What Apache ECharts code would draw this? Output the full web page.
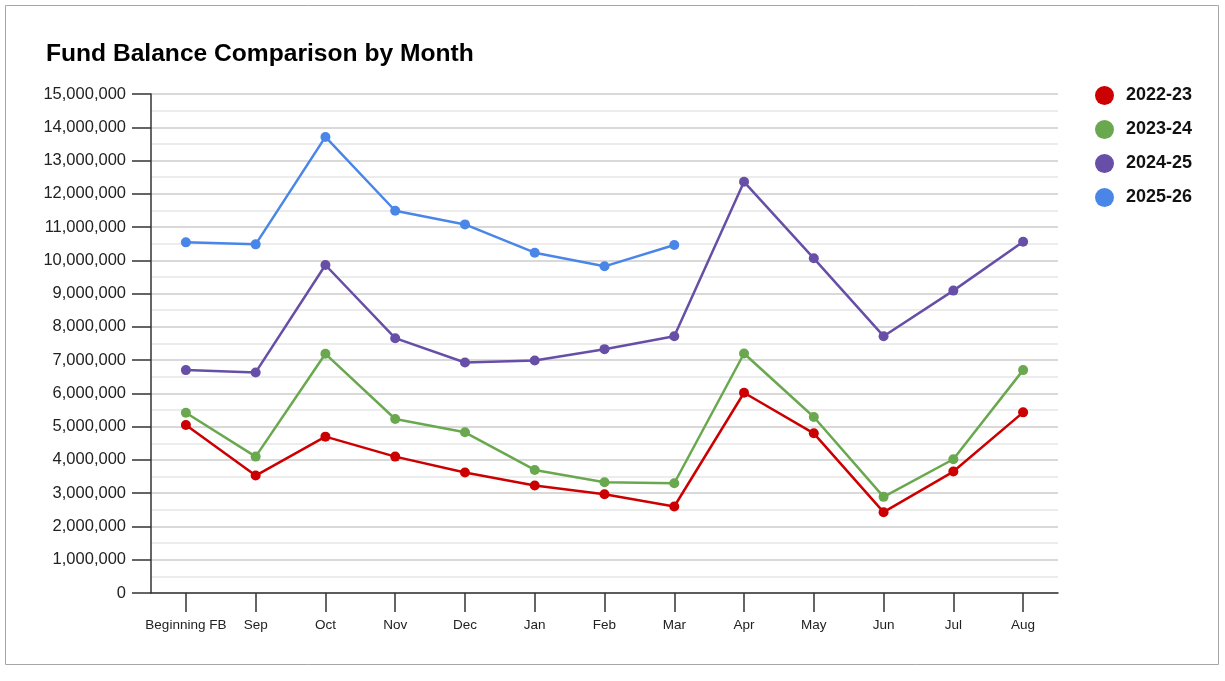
<!DOCTYPE html>
<html>
<head>
<meta charset="utf-8">
<script src="https://cdn.jsdelivr.net/npm/echarts@6/dist/echarts.min.js"></script>
<style>
html,body{margin:0;padding:0;background:#fff;}
#chart{width:1225px;height:681px;}
</style>
</head>
<body>
<div id="chart"></div>
<script>
const categories = ["Beginning FB","Sep","Oct","Nov","Dec","Jan","Feb","Mar","Apr","May","Jun","Jul","Aug"];
const seriesNames = ["2022-23","2023-24","2024-25","2025-26"];
const fy2223 = [5050000,3530000,4700000,4100000,3620000,3230000,2970000,2600000,6020000,4800000,2430000,3650000,5430000];
const fy2324 = [5420000,4100000,7190000,5230000,4830000,3700000,3330000,3300000,7200000,5290000,2890000,4020000,6700000];
const fy2425 = [6700000,6630000,9860000,7660000,6930000,6990000,7330000,7720000,12360000,10060000,7720000,9090000,10560000];
const fy2526 = [10540000,10480000,13710000,11490000,11080000,10230000,9820000,10460000];
const colors = ["#cc0000","#6aa84f","#674ea7","#4a86e8"];
const yTicks = {min:0, max:15000000, interval:1000000};

const chart = echarts.init(document.getElementById('chart'), null, {renderer:'canvas'});
const allData = [fy2223, fy2324, fy2425, fy2526];
const FONT = 'Liberation Sans, Arial, sans-serif';

chart.setOption({
  animation:false,
  backgroundColor:'#ffffff',
  color: colors,
  title:{
    text:'Fund Balance Comparison by Month',
    left:41, top:37,
    textStyle:{fontFamily:FONT, fontSize:24.6, fontWeight:'bold', color:'#000'}
  },
  legend:{
    orient:'vertical',
    left:1090, top:81,
    icon:'circle',
    itemWidth:19, itemHeight:19, itemGap:15,
    data: seriesNames,
    textStyle:{fontFamily:FONT, fontSize:18, fontWeight:'bold', color:'#111', padding:[0,0,0,7]}
  },
  grid:{left:151, right:167, top:94, bottom:88, containLabel:false},
  xAxis:{
    type:'category',
    data:categories,
    boundaryGap:true,
    axisLine:{lineStyle:{color:'#333', width:1.5}},
    axisTick:{show:true, alignWithLabel:true, length:19, lineStyle:{color:'#333', width:1.5}},
    axisLabel:{fontFamily:FONT, fontSize:13.5, color:'#222', margin:25, interval:0},
    splitLine:{show:false}
  },
  yAxis:{
    type:'value',
    min:yTicks.min, max:yTicks.max, interval:yTicks.interval,
    axisLine:{show:true, lineStyle:{color:'#333', width:1.5}},
    axisTick:{show:true, length:19, lineStyle:{color:'#333', width:1.5}},
    axisLabel:{fontFamily:FONT, fontSize:16.5, color:'#222', margin:25,
      formatter:function(v){return v.toLocaleString('en-US');}},
    splitLine:{show:true, lineStyle:{color:'#d9d9d9', width:2}},
    minorTick:{show:false, splitNumber:2},
    minorSplitLine:{show:true, lineStyle:{color:'#ececec', width:2}}
  },
  series: seriesNames.map((n,i)=>({
    name:n,
    type:'line',
    data:allData[i],
    symbol:'circle',
    symbolSize:10,
    lineStyle:{width:2.5, color:colors[i]},
    itemStyle:{color:colors[i]},
    z: 2+i
  })),
  graphic:[{
    type:'rect',
    shape:{x:5.5, y:5.5, width:1213, height:659},
    style:{fill:'none', stroke:'#a6a6a6', lineWidth:1},
    silent:true, z:-1
  }]
});
</script>
</body>
</html>
